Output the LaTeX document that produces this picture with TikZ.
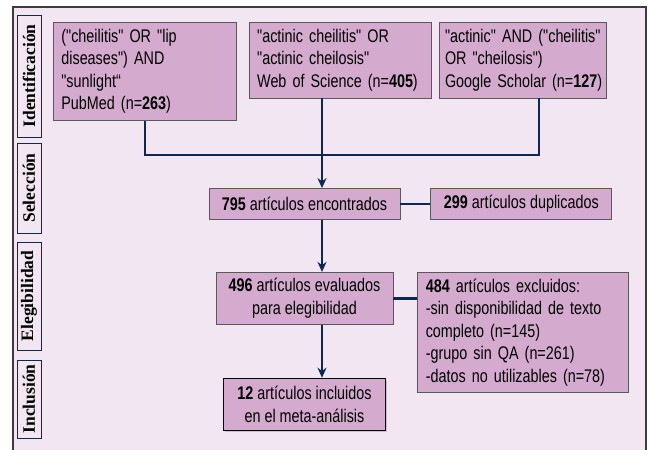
\documentclass[tikz,border=0pt]{standalone}
\usepackage{fontspec}
\setmainfont{Liberation Sans}
\newfontfamily\boxfont{Liberation Sans}[FakeStretch=0.785]
\newfontfamily\phasefont{Liberation Serif}
\usetikzlibrary{positioning, arrows.meta, shadows}

\definecolor{bglav}{RGB}{241,230,241}
\definecolor{boxlav}{RGB}{213,170,207}
\definecolor{navy}{RGB}{14,40,82}
\definecolor{framegray}{RGB}{60,60,60}

\newcommand{\q}[1]{\symbol{34}#1\symbol{34}}
\newcommand{\rows}[1]{\begin{tabular}{@{}l@{}}#1\end{tabular}}

\tikzset{
	srch/.style={draw=black!65, fill=boxlav, line width=0.8pt, inner xsep=8pt, inner ysep=4pt,
		align=left, anchor=north west, font=\boxfont\fontsize{18.3}{22.5}\selectfont},
	flow/.style={draw=black!65, fill=boxlav, line width=0.8pt, inner xsep=4pt, inner ysep=4pt,
		align=center, font=\boxfont\fontsize{18.3}{22.5}\selectfont},
	phase/.style={draw=navy, line width=0.8pt, rotate=90, minimum height=24pt, inner sep=0pt,
		font=\phasefont\bfseries\fontsize{17.5}{17.5}\selectfont},
	link/.style={draw=navy, line width=2.5pt},
	>={Stealth[length=10pt, width=9pt]}
}

\begin{document}
\begin{tikzpicture}[x=1pt, y=-1pt]
	\useasboundingbox (0,0) rectangle (651,450);
	\fill[bglav] (13,7) rectangle (646,470);
	\draw[framegray, line width=1.8pt] (13,7) rectangle (646,470);

	% fases
	\node[phase, minimum width=122pt] (ident) at (29,76) {Identificación};
	\node[phase, minimum width=90pt] (selec) at (29,188) {Selección};
	\node[phase, minimum width=108pt] (eleg) at (29,296) {Elegibilidad};
	\node[phase, minimum width=78pt] (incl) at (29,399) {Inclusión};

	% busquedas
	\node[srch, text width=167pt, minimum height=96pt] (pubmed) at (53,22)
		{\rows{(\q{cheilitis} OR \symbol{34}lip\\diseases\symbol{34}) AND\\\symbol{34}sunlight“\\PubMed (n=\textbf{263})}};
	\node[srch, text width=166pt, minimum height=75pt, right=12pt of pubmed.north east, anchor=north west] (wos)
		{\rows{\q{actinic cheilitis} OR\\\q{actinic cheilosis}\\Web of Science (n=\textbf{405})}};
	\node[srch, inner xsep=6pt, text width=155pt, minimum height=75pt, right=7pt of wos.north east, anchor=north west] (gs)
		{\rows{\q{actinic} AND (\q{cheilitis}\\OR \q{cheilosis})\\Google Scholar (n=\textbf{127})}};

	% flujo
	\node[flow, minimum width=191pt, minimum height=31pt] (found) at (304.5,204)
		{\textbf{795} artículos encontrados};
	\node[flow, minimum width=181pt, minimum height=31pt, right=30pt of found] (dupl)
		{\textbf{299} artículos duplicados};
	\node[flow, minimum width=177pt, minimum height=52pt, below=52pt of found] (eval)
		{\textbf{496} artículos evaluados\\para elegibilidad};
	\node[srch, text width=195pt, minimum height=120pt, right=24pt of eval.north east, anchor=north west] (excl)
		{\rows{\textbf{484} artículos excluidos:\\-sin disponibilidad de texto\\completo (n=145)\\-grupo sin QA (n=261)\\-datos no utilizables (n=78)}};
	\node[flow, draw=black, line width=1.4pt, minimum width=162pt, minimum height=52pt, below=53pt of eval,
		drop shadow={shadow xshift=1.5pt, shadow yshift=-1.5pt, opacity=0.35}] (incl12)
		{\textbf{12} artículos incluidos\\en el meta-análisis};

	\coordinate (trunk) at (322,155);
	\coordinate (gsfoot) at (539,155);

	\draw[link] (pubmed.south) |- (gsfoot) -- (gsfoot |- gs.south);
	\draw[link, ->] (wos.south -| trunk) -- (trunk |- found.north);
	\draw[link] (found.east) -- (dupl.west);
	\draw[link, ->] (trunk |- found.south) -- (trunk |- eval.north);
	\draw[link] (eval.east) -- (eval.east -| excl.west);
	\draw[link, ->] (trunk |- eval.south) -- (trunk |- incl12.north);
\end{tikzpicture}
\end{document}
